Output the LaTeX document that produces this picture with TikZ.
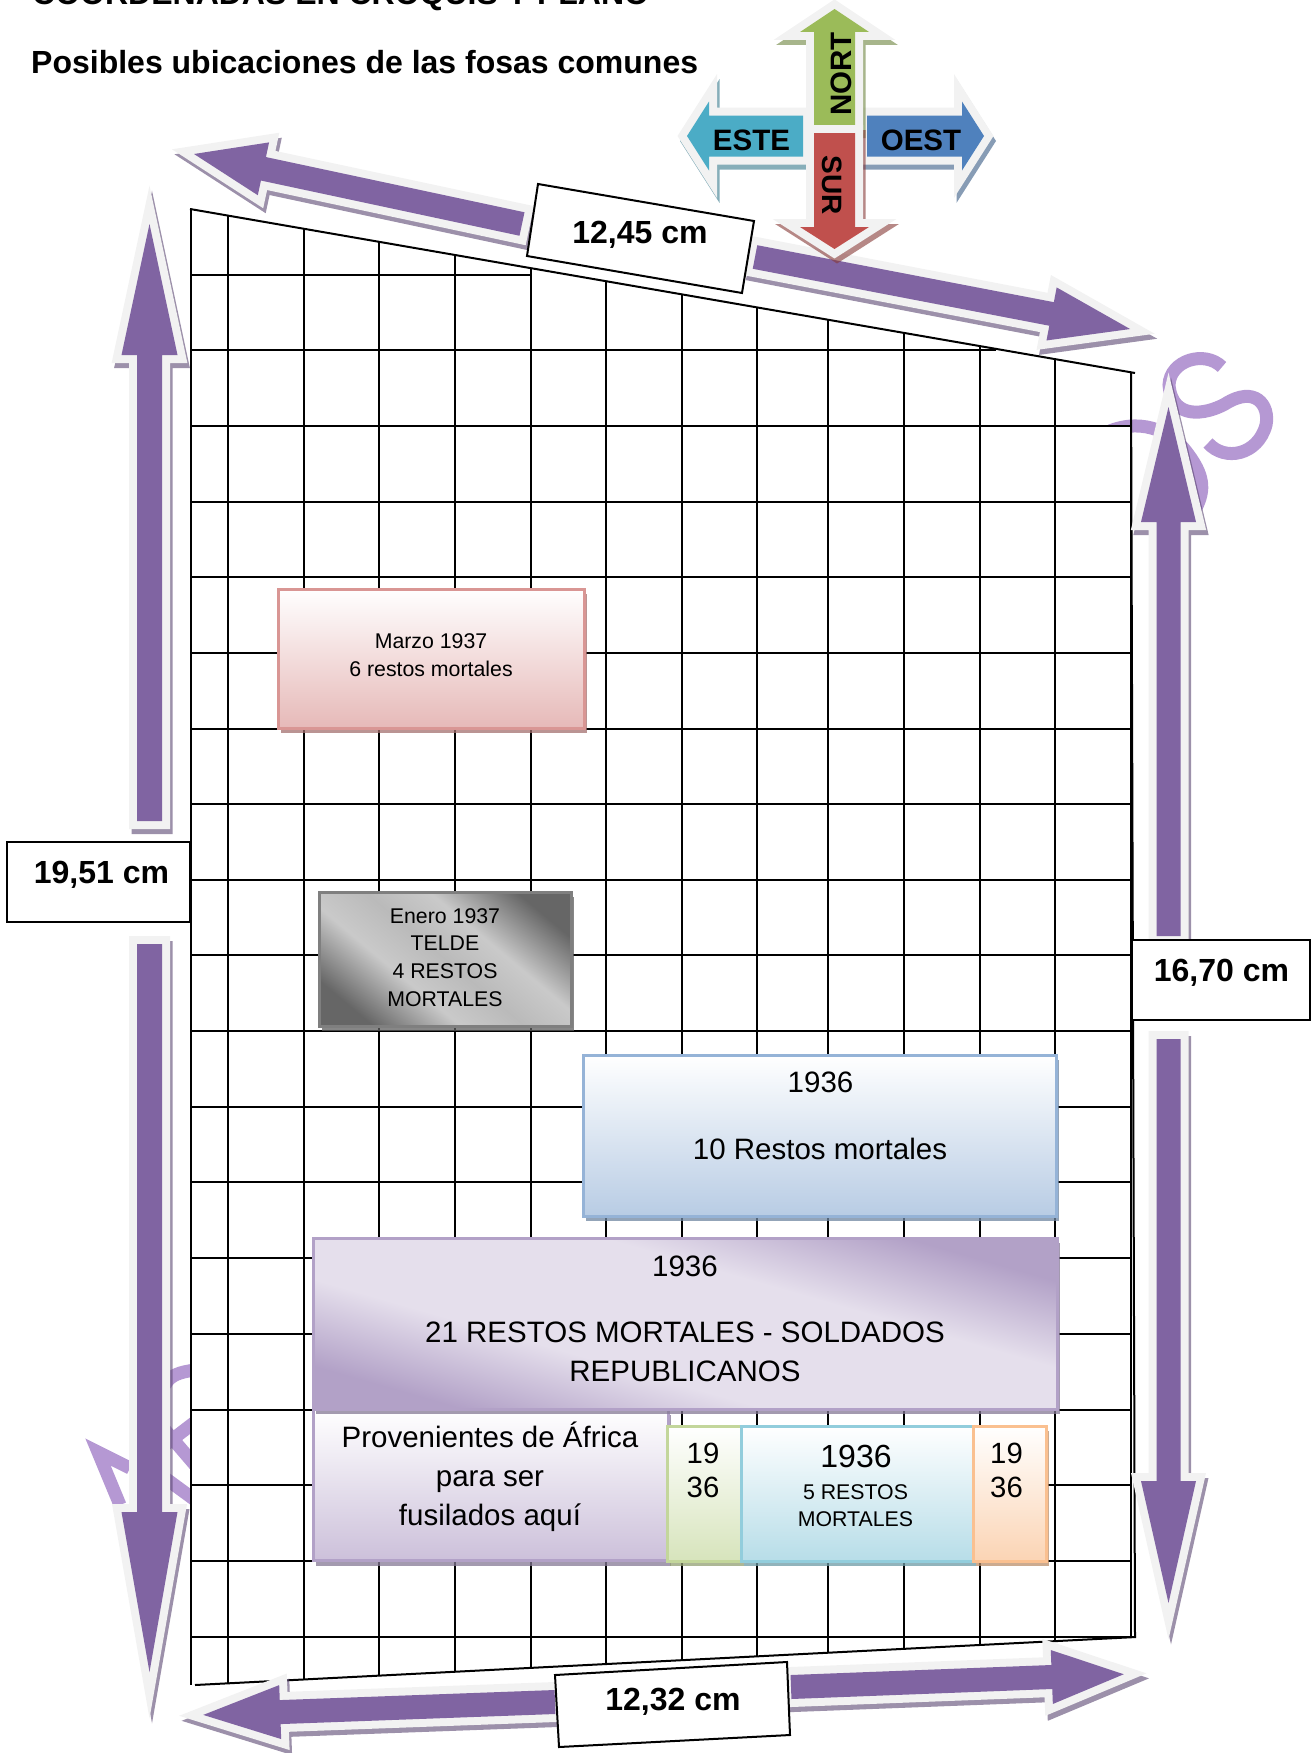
\documentclass[tikz,border=0pt]{standalone}
\usepackage{fontspec}
\setmainfont{Liberation Sans}
\usetikzlibrary{shadows}

\definecolor{morado}{HTML}{8064A2}
\definecolor{borde}{HTML}{F2F2F2}
\definecolor{letras}{HTML}{B598D3}
\definecolor{verdeflecha}{HTML}{9BBB59}
\definecolor{azulflecha}{HTML}{4F81BD}
\definecolor{tealflecha}{HTML}{4BACC6}
\definecolor{rojoflecha}{HTML}{C0504D}
\definecolor{lilaclaro}{HTML}{E5DFEC}
\definecolor{lilaoscuro}{HTML}{B2A1C7}
\definecolor{lilafondo}{HTML}{CCC0DA}
\definecolor{rosaborde}{HTML}{D99694}
\definecolor{rosafondo}{HTML}{E6B9B8}
\definecolor{azulborde}{HTML}{95B3D7}
\definecolor{azulfondo}{HTML}{B8CCE4}
\definecolor{verdeborde}{HTML}{C3D69B}
\definecolor{verdefondo}{HTML}{D7E4BC}
\definecolor{cianborde}{HTML}{92CDDC}
\definecolor{cianfondo}{HTML}{B7DDE8}
\definecolor{naranjaborde}{HTML}{FAC090}
\definecolor{naranjafondo}{HTML}{FBD4B4}
\definecolor{grisborde}{HTML}{7F7F7F}

\pgfdeclareverticalshading{cromogris}{100bp}{color(0bp)=(black!60); color(24bp)=(black!60); color(39bp)=(black!21); color(50bp)=(black!27); color(61bp)=(black!21); color(76bp)=(black!60); color(100bp)=(black!60)}
\pgfdeclareverticalshading{cromolila}{100bp}{color(0bp)=(lilaoscuro); color(26bp)=(lilaoscuro); color(40bp)=(lilaclaro); color(60bp)=(lilaclaro); color(74bp)=(lilaoscuro); color(100bp)=(lilaoscuro)}

\tikzset{
  letra/.style={draw=letras, line width=13pt, miter limit=10},
  fosa/.style={draw=#1, line width=3pt, inner sep=0pt, drop shadow={shadow xshift=3pt, shadow yshift=-5pt, fill=#1!75!black, opacity=.75}},
  rotulo/.style={font=\fontsize{29.5}{39}\selectfont, align=center},
  rotulochico/.style={font=\fontsize{21.3}{27.7}\selectfont, align=center},
  medida/.style={font=\fontsize{32}{38}\selectfont\bfseries},
  brujula/.style={font=\fontsize{29.5}{32}\selectfont\bfseries}
}

% colour, x, y of the tail, angle, length, head length, head half width, shaft half width
\newcommand{\fatarrow}[8]{
  \begin{scope}[shift={(#2,#3)}]
    \draw[#1!70!black, opacity=.6, line width=16pt, miter limit=20, shift={(2.5,5)}, rotate=#4]
      (0,-#8) -- ({#5-#6},-#8) -- ({#5-#6},-#7) -- (#5,0) -- ({#5-#6},#7) -- ({#5-#6},#8) -- (0,#8) -- cycle;
    \draw[draw=borde, line width=16pt, miter limit=20, rotate=#4]
      (0,-#8) -- ({#5-#6},-#8) -- ({#5-#6},-#7) -- (#5,0) -- ({#5-#6},#7) -- ({#5-#6},#8) -- (0,#8) -- cycle;
    \fill[#1, rotate=#4]
      (0,-#8) -- ({#5-#6},-#8) -- ({#5-#6},-#7) -- (#5,0) -- ({#5-#6},#7) -- ({#5-#6},#8) -- (0,#8) -- cycle;
  \end{scope}
}

\begin{document}
\begin{tikzpicture}[x=1pt,y=-1pt]

  \useasboundingbox (0,0) rectangle (1312,1753);

  % big letters behind the grid
  \draw[letra] (1222,367) .. controls (1205,350) and (1170,360) .. (1169,385)
    .. controls (1172,420) and (1205,415) .. (1225,404)
    .. controls (1255,385) and (1270,405) .. (1266,425)
    .. controls (1258,455) and (1225,462) .. (1208,443);
  \draw[letra] (1100,436) .. controls (1130,418) and (1165,425) .. (1185,450)
    .. controls (1205,475) and (1205,490) .. (1196,508);
  \draw[letra] (130,1468) -- (98,1452) -- (120,1505);
  \draw[letra] (165,1385) .. controls (170,1375) and (180,1372) .. (195,1370);
  \draw[letra] (165,1445) -- (195,1422);
  \draw[letra] (165,1430) -- (195,1465);
  \draw[letra] (165,1478) -- (195,1500);

  % grid
  \fill[white] (190,426) rectangle (1131,1637);
  \foreach \gx in {191,228,304,379,455,531,606,682,757,828,904,980,1055,1131}{
    \pgfmathsetmacro{\gtop}{209+(\gx-190)*0.1737}
    \pgfmathsetmacro{\gbot}{min(1685-(\gx-195)*0.0512,1685)}
    \draw[line width=2pt] (\gx,\gtop) -- (\gx,\gbot);
  }
  \draw[line width=2pt] (190,274.5) -- (531,274.5);
  \draw[line width=2pt] (190,350) -- (996,350);
  \foreach \gy in {426,501.5,577,653,729,804,880,955,1031,1107,1182,1258,1334,1410,1485,1561}{
    \draw[line width=2pt] (190,\gy) -- (1131,\gy);
  }
  \draw[line width=2pt] (190,1637) -- (1136,1637);
  \draw[line width=2pt] (190,209) -- (1135,373);
  \draw[line width=2pt] (195,1685) -- (1136,1637);
  \draw[line width=2pt] (1131,373) -- (1135,1637);

  % boxes
  \node[fosa=lilaoscuro, top color=white, bottom color=lilafondo, minimum width=355pt, minimum height=151pt] (africa) at (490.5,1485) {};
  \node[fosa=lilaoscuro, shading=cromolila, shading angle=-16, minimum width=744pt, minimum height=171pt] (soldados) at (685,1323.5) {};
  \node[fosa=rosaborde, top color=white, bottom color=rosafondo, minimum width=306pt, minimum height=139pt] (marzo) at (431,658.5) {};
  \node[fosa=grisborde, shading=cromogris, shading angle=-40, minimum width=252pt, minimum height=134pt] (enero) at (445,959) {};
  \node[fosa=azulborde, top color=white, bottom color=azulfondo, minimum width=473pt, minimum height=161pt] (diez) at (819.5,1135.5) {};
  \node[fosa=verdeborde, top color=white, bottom color=verdefondo, minimum width=74pt, minimum height=135pt] (verde) at (704,1493.5) {};
  \node[fosa=cianborde, top color=white, bottom color=cianfondo, minimum width=232pt, minimum height=135pt] (cinco) at (857,1493.5) {};
  \node[fosa=naranjaborde, top color=white, bottom color=naranjafondo, minimum width=73pt, minimum height=135pt] (naranja) at (1009.5,1493.5) {};

  % box texts
  \node[rotulochico] (marzotxt) at (431,655.5) {Marzo 1937\\6 restos mortales};
  \node[rotulochico] (enerotxt) at (445,957.5) {Enero 1937\\TELDE\\4 RESTOS\\MORTALES};
  \node[rotulo] (diezanio) at (820.5,1082) {1936};
  \node[rotulo] (dieztxt) at (820,1149) {10 Restos mortales};
  \node[rotulo] (soldadosanio) at (685,1266) {1936};
  \node[rotulo] (soldadostxt) at (685,1351.5) {21 RESTOS MORTALES - SOLDADOS\\REPUBLICANOS};
  \node[rotulo] (africatxt) at (490,1476.5) {Provenientes de África\\para ser\\fusilados aquí};
  \node[rotulo, font=\fontsize{29.3}{34}\selectfont] (verdetxt) at (703,1470) {19\\36};
  \node[rotulo, font=\fontsize{32}{38}\selectfont] (cincoanio) at (856,1456) {1936};
  \node[rotulochico] (cincotxt) at (855.5,1505.5) {5 RESTOS\\MORTALES};
  \node[rotulo, font=\fontsize{29.3}{34}\selectfont] (naranjatxt) at (1006.5,1470) {19\\36};

  % measure arrows
  \fatarrow{morado}{522}{224}{167.95}{335.4}{71}{27}{12}
  \fatarrow{morado}{755}{257}{-10.87}{382}{80}{27}{12}
  \fatarrow{morado}{149.5}{821}{90}{597}{131}{28}{12.5}
  \fatarrow{morado}{149.5}{944}{-90}{728}{160}{28}{12.5}
  \fatarrow{morado}{1168.5}{936}{90}{529}{115}{27.5}{12}
  \fatarrow{morado}{1168.5}{1039}{-90}{564}{122}{27.5}{12}
  \fatarrow{morado}{555}{1702}{182.1}{352}{77}{27}{12}
  \fatarrow{morado}{791}{1687}{2.2}{333}{72}{27}{12}

  % compass
  \fatarrow{tealflecha}{803}{136}{180}{116}{22}{34.5}{20.5}
  \fatarrow{azulflecha}{867}{136}{0}{117}{22}{34.5}{20.5}
  \fatarrow{verdeflecha}{834.5}{125}{90}{116}{23}{34.5}{20.5}
  \fatarrow{rojoflecha}{834.5}{133}{-90}{116}{22}{34.5}{20.5}
  \node[brujula] (este) at (751.5,140) {ESTE};
  \node[brujula] (oest) at (921,140) {OEST};
  \node[brujula, rotate=90] (nort) at (841,74) {NORT};
  \node[brujula, rotate=-90, font=\fontsize{28}{32}\selectfont\bfseries] (sur) at (832,185) {SUR};

  % measures
  \draw[line width=2pt, fill=white] (538,184) -- (754,221) -- (742,293) -- (527,256) -- cycle;
  \node[medida] (anchosup) at (640,235) {12,45 cm};
  \draw[line width=2pt, fill=white] (555,1675) -- (787,1662) -- (790,1735) -- (559,1747) -- cycle;
  \node[medida] (anchoinf) at (673,1702) {12,32 cm};
  \node[medida, draw, line width=2pt, fill=white, minimum width=183pt, minimum height=80pt] (altoizq) at (98.5,882) {};
  \node[medida] (altoizqtxt) at (101.5,875) {19,51 cm};
  \node[medida, draw, line width=2pt, fill=white, minimum width=178pt, minimum height=80pt] (altoder) at (1221,980) {};
  \node[medida] (altodertxt) at (1221.5,973) {16,70 cm};

  % titles
  \node[medida, anchor=base west, inner sep=0pt] (cabecera) at (32,5) {COORDENADAS EN CROQUIS Y PLANO};
  \node[medida, anchor=base west, inner sep=0pt] (titulo) at (31,74) {Posibles ubicaciones de las fosas comunes};

\end{tikzpicture}
\end{document}
